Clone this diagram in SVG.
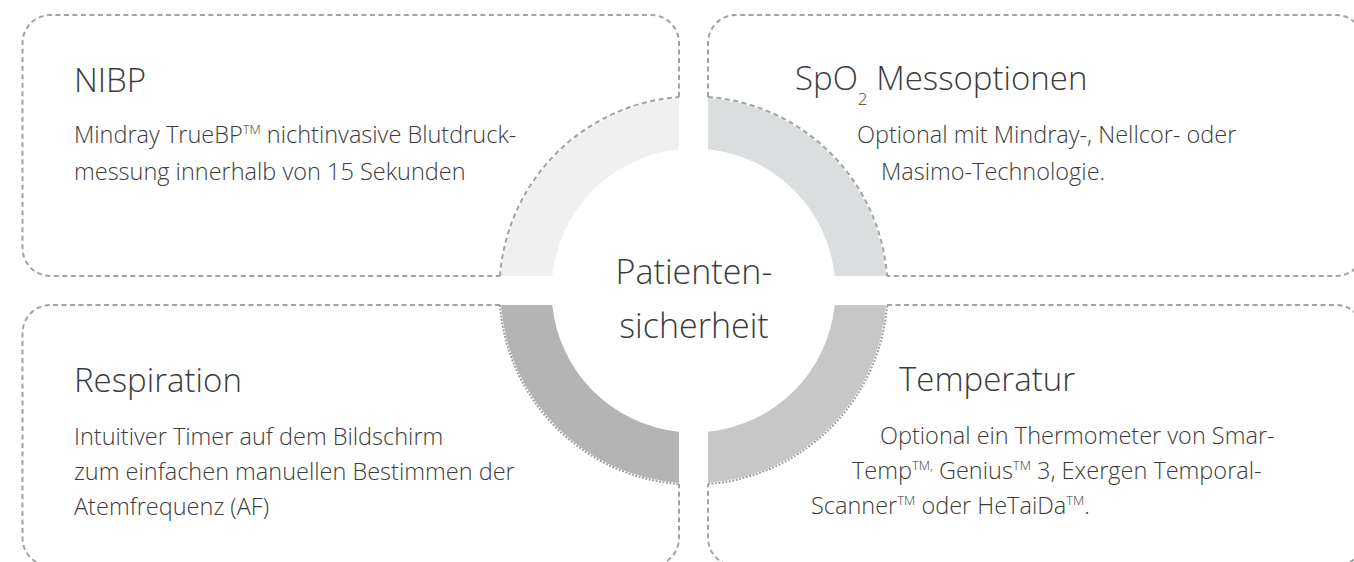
<svg xmlns="http://www.w3.org/2000/svg" width="1354" height="562" viewBox="0 0 1354 562">
<style>
.txt{font-family:"Open Sans","Liberation Sans",sans-serif;font-weight:300;fill:#3c3c3c}
.title{font-size:33px}
.body{font-size:23.5px}
.center{font-size:34px;text-anchor:middle}
.sup{font-size:13px}
.sub{font-size:17px}
.border{fill:none;stroke:#a2a2a2;stroke-width:2;stroke-dasharray:5 3.5}
.fine{fill:none;stroke:#a2a2a2;stroke-width:2;stroke-dasharray:2 1.5}
</style>
<rect width="1354" height="562" fill="#ffffff"/>
<g id="ring">
<path d="M501.05,276 A193,193 0 0 1 679,98.05 V149.24 A142,142 0 0 0 552.24,276 Z" fill="#f0f0f0"/>
<path d="M708,98.05 A193,193 0 0 1 885.95,276 H834.76 A142,142 0 0 0 708,149.24 Z" fill="#dbdede"/>
<path d="M501.05,305 A193,193 0 0 0 679,482.95 V431.76 A142,142 0 0 1 552.24,305 Z" fill="#b4b4b4"/>
<path d="M708,482.95 A193,193 0 0 0 885.95,305 H834.76 A142,142 0 0 1 708,431.76 Z" fill="#c7c7c7"/>
</g>
<g id="nibp">
<path class="border" d="M679,97 V43 A28,28 0 0 0 651,15 H50.5 A28,28 0 0 0 22.5,43 V248 A28,28 0 0 0 50.5,276 H500"/>
<path class="border" d="M500,276 A194,194 0 0 1 679,97"/>
<text class="txt title" x="74" y="92">NIBP</text>
<text class="txt body" x="74" y="143">Mindray TrueBP<tspan class="sup" dy="-9">TM</tspan><tspan dy="9"> nichtinvasive Blutdruck-</tspan></text>
<text class="txt body" x="74" y="180">messung innerhalb von 15 Sekunden</text>
</g>
<g id="spo2">
<path class="border" d="M708,97 V43 A28,28 0 0 1 736,15 H1336 A28,28 0 0 1 1364,43 V248 A28,28 0 0 1 1336,276 H887"/>
<path class="border" d="M708,97 A194,194 0 0 1 887,276"/>
<text class="txt title" x="795" y="90">SpO<tspan class="sub" dy="15">2</tspan><tspan dy="-15"> Messoptionen</tspan></text>
<text class="txt body" x="857" y="143">Optional mit Mindray-, Nellcor- oder</text>
<text class="txt body" x="881" y="180">Masimo-Technologie.</text>
</g>
<g id="respiration">
<path class="border" d="M500,305 H50.5 A28,28 0 0 0 22.5,333 V538 A28,28 0 0 0 50.5,566 H651 A28,28 0 0 0 679,538 V484"/>
<path class="fine" d="M500,305 A194,194 0 0 0 679,484"/>
<text class="txt title" x="74" y="392">Respiration</text>
<text class="txt body" x="74" y="445">Intuitiver Timer auf dem Bildschirm</text>
<text class="txt body" x="74" y="480">zum einfachen manuellen Bestimmen der</text>
<text class="txt body" x="74" y="515">Atemfrequenz (AF)</text>
</g>
<g id="temperatur">
<path class="border" d="M887,305 H1336 A28,28 0 0 1 1364,333 V538 A28,28 0 0 1 1336,566 H736 A28,28 0 0 1 708,538 V484"/>
<path class="fine" d="M708,484 A194,194 0 0 0 887,305"/>
<text class="txt title" x="899" y="391">Temperatur</text>
<text class="txt body" x="880" y="444">Optional ein Thermometer von Smar-</text>
<text class="txt body" x="852" y="479">Temp<tspan class="sup" dy="-9">TM,</tspan><tspan dy="9"> Genius</tspan><tspan class="sup" dy="-9">TM</tspan><tspan dy="9"> 3, Exergen Temporal-</tspan></text>
<text class="txt body" x="811" y="514">Scanner<tspan class="sup" dy="-9">TM</tspan><tspan dy="9"> oder HeTaiDa</tspan><tspan class="sup" dy="-9">TM</tspan><tspan dy="9">.</tspan></text>
</g>
<g id="center">
<text class="txt center" x="694" y="284">Patienten-</text>
<text class="txt center" x="694" y="338">sicherheit</text>
</g>
</svg>
